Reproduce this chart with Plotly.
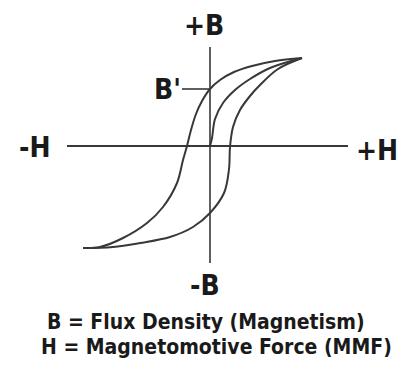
import plotly.graph_objects as go

# hysteresis loop (H right, B up)
desc_H = [92, 65, 42, 24, 10, 0, -8, -14, -19, -23, -27, -33, -47, -63, -87, -110, -127]
desc_B = [88, 85, 80, 74, 66, 57, 45, 32, 16, 0, -14, -37, -61, -77, -92, -101, -102]

asc_H = [-127, -97, -70, -40, -17, 0, 14, 19, 20, 23, 30, 40, 50, 68, 92]
asc_B = [-102, -101, -97, -91, -81, -67, -47, -23, -1, 19, 36, 50, 61, 77, 88]

init_H = [0, 2, 5, 13, 25, 40, 60, 92]
init_B = [0, 8, 27, 43, 56, 67, 78, 88]

h_axis = [-143, 138]
b_axis = [99, -117]
b_prime = 57

line_col = "#383838"
fig = go.Figure()

fig.add_trace(go.Scatter(x=h_axis, y=[0, 0], mode="lines",
                         line=dict(color=line_col, width=2)))
fig.add_trace(go.Scatter(x=[0, 0], y=b_axis, mode="lines",
                         line=dict(color=line_col, width=1.6)))
fig.add_trace(go.Scatter(x=[-28, 0], y=[b_prime, b_prime], mode="lines",
                         line=dict(color=line_col, width=1.6)))

for hx, by in [(desc_H, desc_B), (asc_H, asc_B), (init_H, init_B)]:
    fig.add_trace(go.Scatter(x=hx, y=by, mode="lines",
                             line=dict(color=line_col, width=2, shape="spline", smoothing=1.0)))

big = dict(family="DejaVu Sans Condensed, sans-serif", size=28, color="#1a1a1a")
small = dict(family="DejaVu Sans Condensed, sans-serif", size=21, color="#1a1a1a")

labels = [
    ("+B", -6, 121, big),
    ("-B", -5, -139, big),
    ("-H", -175, -1, big),
    ("+H", 167, -4, big),
    ("B'", -43, 57, big),
    ("B = Flux Density (Magnetism)", -4, -176, small),
    ("H = Magnetomotive Force (MMF)", 6, -201, small),
]
for txt, x, y, f in labels:
    fig.add_annotation(x=x, y=y, text="<b>" + txt + "</b>", showarrow=False,
                       font=f, xanchor="center", yanchor="middle")

fig.update_layout(
    width=401, height=379, margin=dict(l=0, r=0, t=0, b=0),
    paper_bgcolor="white", plot_bgcolor="white", showlegend=False,
    xaxis=dict(range=[-210, 191], visible=False, fixedrange=True),
    yaxis=dict(range=[-233, 146], visible=False, fixedrange=True),
)

fig.write_html("out.html", config={"displayModeBar": False},
               post_script="document.body.style.margin='0';")
